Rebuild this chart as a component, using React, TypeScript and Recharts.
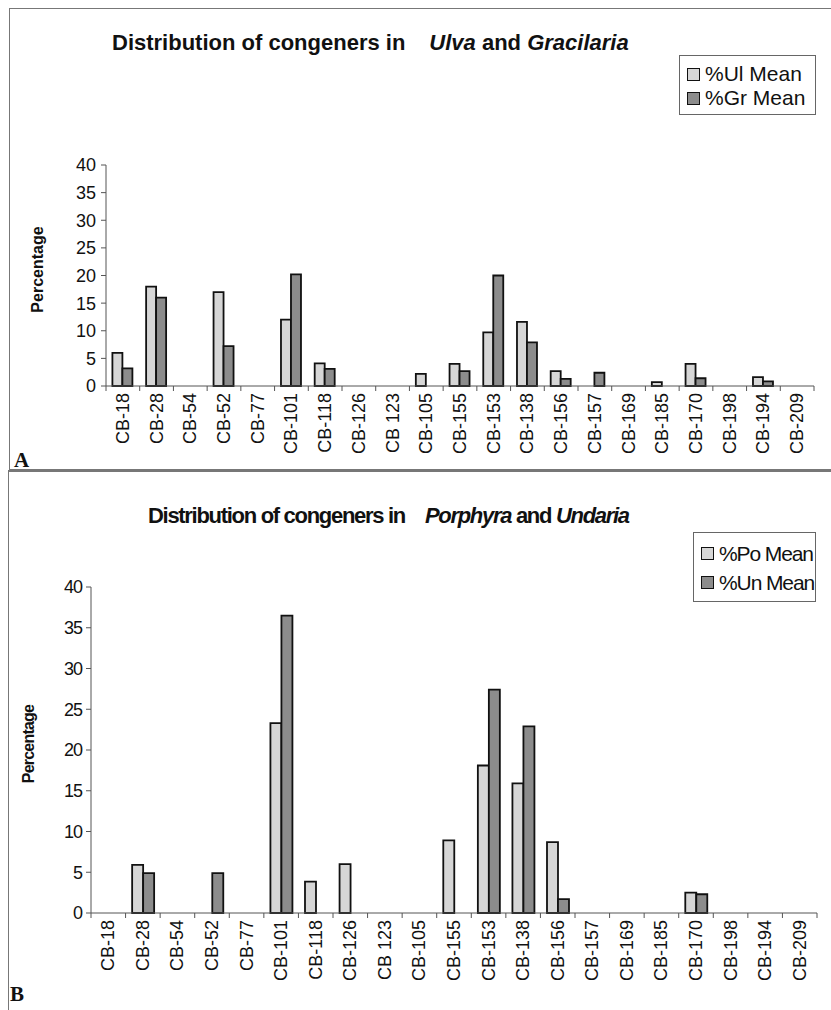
import React from "react";
import { BarChart, Bar, XAxis, YAxis } from "recharts";

// congeners on the x axis (same order in both panels)
const categories = [
  "CB-18", "CB-28", "CB-54", "CB-52", "CB-77", "CB-101", "CB-118", "CB-126", "CB 123", "CB-105", "CB-155",
  "CB-153", "CB-138", "CB-156", "CB-157", "CB-169", "CB-185", "CB-170", "CB-198", "CB-194", "CB-209",
];

// panel A
const ulvaMean = [6, 18, null, 17, null, 12, 4.1, null, null, 2.2, 4, 9.7, 11.6, 2.7, null, null, 0.7, 4, null, 1.6, null];
const gracilariaMean = [3.2, 16, null, 7.2, null, 20.2, 3.1, null, null, null, 2.7, 20, 7.9, 1.3, 2.4, null, null, 1.4, null, 0.85, null];

// panel B
const porphyraMean = [null, 5.9, null, null, null, 23.3, 3.85, 6, null, null, 8.9, 18.1, 15.9, 8.7, null, null, null, 2.5, null, null, null];
const undariaMean = [null, 4.9, null, 4.9, null, 36.5, null, null, null, null, null, 27.4, 22.9, 1.7, null, null, null, 2.3, null, null, null];

const yTicks = [0, 5, 10, 15, 20, 25, 30, 35, 40];

const dataA = categories.map((name, i) => ({ name, ul: ulvaMean[i], gr: gracilariaMean[i] }));
const dataB = categories.map((name, i) => ({ name, po: porphyraMean[i], un: undariaMean[i] }));

const SANS = '"Liberation Sans", Arial, sans-serif';
const SERIF = '"Liberation Serif", "Times New Roman", serif';
const LIGHT = "#d6d6d6";
const DARK = "#8c8c8c";
const AXIS = "#555";

function CongenerTick(props: any) {
  const { x, y, payload } = props;
  const half = payload?.offset ?? 0;
  const isLast = payload?.value === categories[categories.length - 1];
  const ty = y + 7;
  return (
    <g>
      <line x1={x - half} x2={x - half} y1={y} y2={y + 5} stroke={AXIS} />
      {isLast && <line x1={x + half} x2={x + half} y1={y} y2={y + 5} stroke={AXIS} />}
      <text
        x={x}
        y={ty}
        transform={`rotate(-90 ${x} ${ty})`}
        textAnchor="end"
        dominantBaseline="central"
        fontSize={18}
        fontFamily={SANS}
        fill="#111"
      >
        {payload.value}
      </text>
    </g>
  );
}

function yLabel(x: number, condensed: boolean) {
  return ({ viewBox }: any) => {
    const cy = viewBox.y + viewBox.height / 2 - 6;
    return (
      <text
        x={x}
        y={cy}
        transform={`rotate(-90 ${x} ${cy})`}
        textAnchor="middle"
        dominantBaseline="central"
        fontSize={16}
        fontWeight="bold"
        fontFamily={SANS}
        letterSpacing={condensed ? -0.8 : 0}
        fill="#111"
      >
        Percentage
      </text>
    );
  };
}

function LegendBox({ left, top, width, height, items, condensed }: any) {
  const row = (height - 12) / 2;
  return (
    <div
      style={{
        position: "absolute",
        left,
        top,
        width,
        height,
        border: "1px solid #666",
        boxSizing: "border-box",
        background: "#fff",
        fontFamily: SANS,
        fontSize: 21,
        letterSpacing: condensed ? -1.1 : 0,
        color: "#111",
      }}
    >
      {items.map((it: any, i: number) => (
        <div
          key={it.label}
          style={{ position: "absolute", left: 7, top: 6 + i * row, height: row, display: "flex", alignItems: "center", whiteSpace: "nowrap" }}
        >
          <span style={{ width: 11, height: 11, border: "1.5px solid #111", background: it.color, display: "inline-block", marginRight: 5 }} />
          {it.label}
        </div>
      ))}
    </div>
  );
}

export default function App() {
  return (
    <div style={{ position: "absolute", left: 0, top: 0, width: 831, height: 1010, background: "#fff", overflow: "hidden" }}>
      {/* panel frames */}
      <div style={{ position: "absolute", left: 9, top: 8, width: 840, height: 462, border: "1.5px solid #777", boxSizing: "border-box" }} />
      <div style={{ position: "absolute", left: 8, top: 470, width: 840, height: 560, border: "1.5px solid #777", borderTopWidth: 2, boxSizing: "border-box" }} />

      {/* panel A */}
      <div style={{ position: "absolute", left: 112, top: 32, fontFamily: SANS, fontSize: 22, fontWeight: "bold", lineHeight: "22px", color: "#111", whiteSpace: "nowrap" }}>
        Distribution of congeners in<span style={{ marginLeft: 24, fontStyle: "italic" }}>Ulva</span> and <i>Gracilaria</i>
      </div>
      <LegendBox
        left={679}
        top={55}
        width={137}
        height={60}
        items={[
          { label: "%Ul Mean", color: LIGHT },
          { label: "%Gr Mean", color: DARK },
        ]}
      />
      <div style={{ position: "absolute", left: 0, top: 0 }}>
        <BarChart width={831} height={470} data={dataA} margin={{ top: 165, right: 17, bottom: 0, left: 0 }} barCategoryGap="19%" barGap={0}>
          <XAxis dataKey="name" interval={0} height={84} tickLine={false} tickSize={0} tickMargin={0} axisLine={{ stroke: AXIS }} tick={<CongenerTick />} />
          <YAxis
            width={106}
            domain={[0, 40]}
            ticks={yTicks}
            interval={0}
            tickSize={5}
            tickMargin={5}
            axisLine={{ stroke: AXIS }}
            tickLine={{ stroke: AXIS }}
            tick={{ fill: "#111", fontSize: 18, fontFamily: SANS }}
            label={yLabel(37, false)}
          />
          <Bar dataKey="ul" fill={LIGHT} stroke="#111" strokeWidth={1.8} isAnimationActive={false} />
          <Bar dataKey="gr" fill={DARK} stroke="#111" strokeWidth={1.8} isAnimationActive={false} />
        </BarChart>
      </div>
      <div style={{ position: "absolute", left: 14, top: 448, fontFamily: SERIF, fontSize: 21, fontWeight: "bold", color: "#111" }}>A</div>

      {/* panel B */}
      <div style={{ position: "absolute", left: 148, top: 505, fontFamily: SANS, fontSize: 22, fontWeight: "bold", lineHeight: "22px", letterSpacing: -1.3, color: "#111", whiteSpace: "nowrap" }}>
        Distribution of congeners in<span style={{ marginLeft: 20, fontStyle: "italic" }}>Porphyra</span> and <i>Undaria</i>
      </div>
      <LegendBox
        left={693}
        top={532}
        width={123}
        height={70}
        condensed
        items={[
          { label: "%Po Mean", color: LIGHT },
          { label: "%Un Mean", color: DARK },
        ]}
      />
      <div style={{ position: "absolute", left: 0, top: 470 }}>
        <BarChart width={831} height={540} data={dataB} margin={{ top: 117, right: 14, bottom: 0, left: 0 }} barCategoryGap="19%" barGap={0}>
          <XAxis dataKey="name" interval={0} height={97} tickLine={false} tickSize={0} tickMargin={0} axisLine={{ stroke: AXIS }} tick={<CongenerTick />} />
          <YAxis
            width={91}
            domain={[0, 40]}
            ticks={yTicks}
            interval={0}
            tickSize={5}
            tickMargin={4}
            axisLine={{ stroke: AXIS }}
            tickLine={{ stroke: AXIS }}
            tick={{ fill: "#111", fontSize: 18, fontFamily: SANS, letterSpacing: -1 }}
            label={yLabel(28, true)}
          />
          <Bar dataKey="po" fill={LIGHT} stroke="#111" strokeWidth={1.8} isAnimationActive={false} />
          <Bar dataKey="un" fill={DARK} stroke="#111" strokeWidth={1.8} isAnimationActive={false} />
        </BarChart>
      </div>
      <div style={{ position: "absolute", left: 10, top: 982, fontFamily: SERIF, fontSize: 21, lineHeight: "24px", fontWeight: "bold", color: "#111" }}>B</div>
    </div>
  );
}
